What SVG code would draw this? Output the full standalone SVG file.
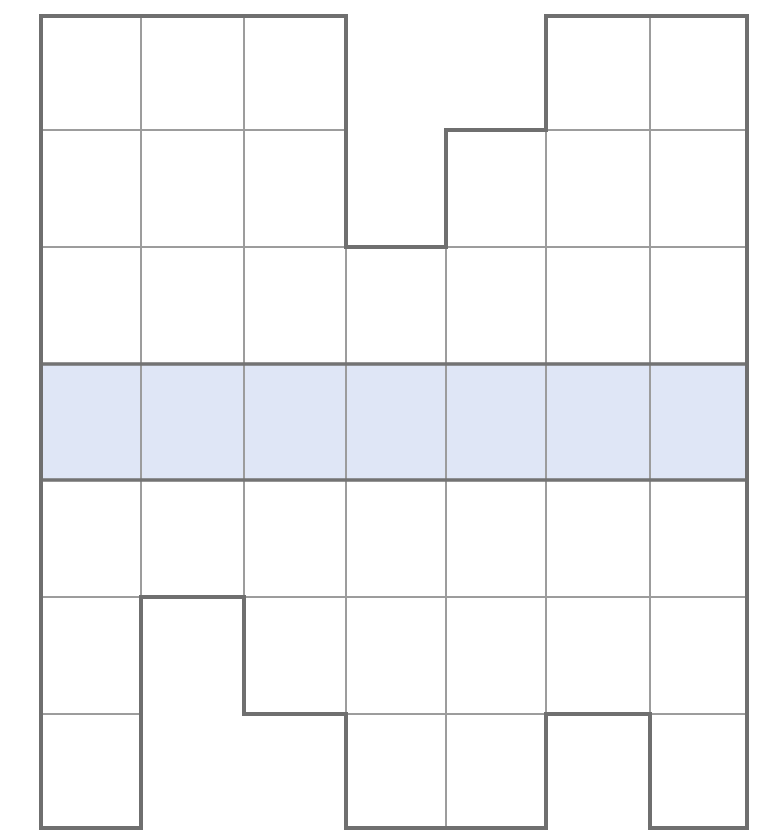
<svg xmlns="http://www.w3.org/2000/svg" width="769" height="832" viewBox="0 0 769 832">
<style>
.cell{fill:none;stroke:#9c9c9c;stroke-width:1.8}
.band{fill:#dfe6f6;stroke:none}
.bandedge{stroke:#737373;stroke-width:3.5;fill:none}
.outline{fill:none;stroke:#6f6f6f;stroke-width:4;stroke-linejoin:miter}
</style>
<rect width="769" height="832" fill="#ffffff"/>
<g id="band">
<rect class="band" x="41" y="364" width="706" height="116"/>
</g>
<g id="cells">
<!-- col0 rows 0-6 -->
<rect class="cell" x="41" y="16" width="100" height="114"/>
<rect class="cell" x="41" y="130" width="100" height="117"/>
<rect class="cell" x="41" y="247" width="100" height="117"/>
<rect class="cell" x="41" y="364" width="100" height="116"/>
<rect class="cell" x="41" y="480" width="100" height="117"/>
<rect class="cell" x="41" y="597" width="100" height="117"/>
<rect class="cell" x="41" y="714" width="100" height="114"/>
<!-- col1 rows 0-4 -->
<rect class="cell" x="141" y="16" width="103" height="114"/>
<rect class="cell" x="141" y="130" width="103" height="117"/>
<rect class="cell" x="141" y="247" width="103" height="117"/>
<rect class="cell" x="141" y="364" width="103" height="116"/>
<rect class="cell" x="141" y="480" width="103" height="117"/>
<!-- col2 rows 0-5 -->
<rect class="cell" x="244" y="16" width="102" height="114"/>
<rect class="cell" x="244" y="130" width="102" height="117"/>
<rect class="cell" x="244" y="247" width="102" height="117"/>
<rect class="cell" x="244" y="364" width="102" height="116"/>
<rect class="cell" x="244" y="480" width="102" height="117"/>
<rect class="cell" x="244" y="597" width="102" height="117"/>
<!-- col3 rows 2-6 -->
<rect class="cell" x="346" y="247" width="100" height="117"/>
<rect class="cell" x="346" y="364" width="100" height="116"/>
<rect class="cell" x="346" y="480" width="100" height="117"/>
<rect class="cell" x="346" y="597" width="100" height="117"/>
<rect class="cell" x="346" y="714" width="100" height="114"/>
<!-- col4 rows 1-6 -->
<rect class="cell" x="446" y="130" width="100" height="117"/>
<rect class="cell" x="446" y="247" width="100" height="117"/>
<rect class="cell" x="446" y="364" width="100" height="116"/>
<rect class="cell" x="446" y="480" width="100" height="117"/>
<rect class="cell" x="446" y="597" width="100" height="117"/>
<rect class="cell" x="446" y="714" width="100" height="114"/>
<!-- col5 rows 0-5 -->
<rect class="cell" x="546" y="16" width="104" height="114"/>
<rect class="cell" x="546" y="130" width="104" height="117"/>
<rect class="cell" x="546" y="247" width="104" height="117"/>
<rect class="cell" x="546" y="364" width="104" height="116"/>
<rect class="cell" x="546" y="480" width="104" height="117"/>
<rect class="cell" x="546" y="597" width="104" height="117"/>
<!-- col6 rows 0-6 -->
<rect class="cell" x="650" y="16" width="97" height="114"/>
<rect class="cell" x="650" y="130" width="97" height="117"/>
<rect class="cell" x="650" y="247" width="97" height="117"/>
<rect class="cell" x="650" y="364" width="97" height="116"/>
<rect class="cell" x="650" y="480" width="97" height="117"/>
<rect class="cell" x="650" y="597" width="97" height="117"/>
<rect class="cell" x="650" y="714" width="97" height="114"/>
</g>
<g id="band-edges">
<line class="bandedge" x1="41" y1="364" x2="747" y2="364"/>
<line class="bandedge" x1="41" y1="480" x2="747" y2="480"/>
</g>
<g id="outline">
<path class="outline" d="M41,16 H346 V247 H446 V130 H546 V16 H747 V828 H650 V714 H546 V828 H346 V714 H244 V597 H141 V828 H41 Z"/>
</g>
</svg>
